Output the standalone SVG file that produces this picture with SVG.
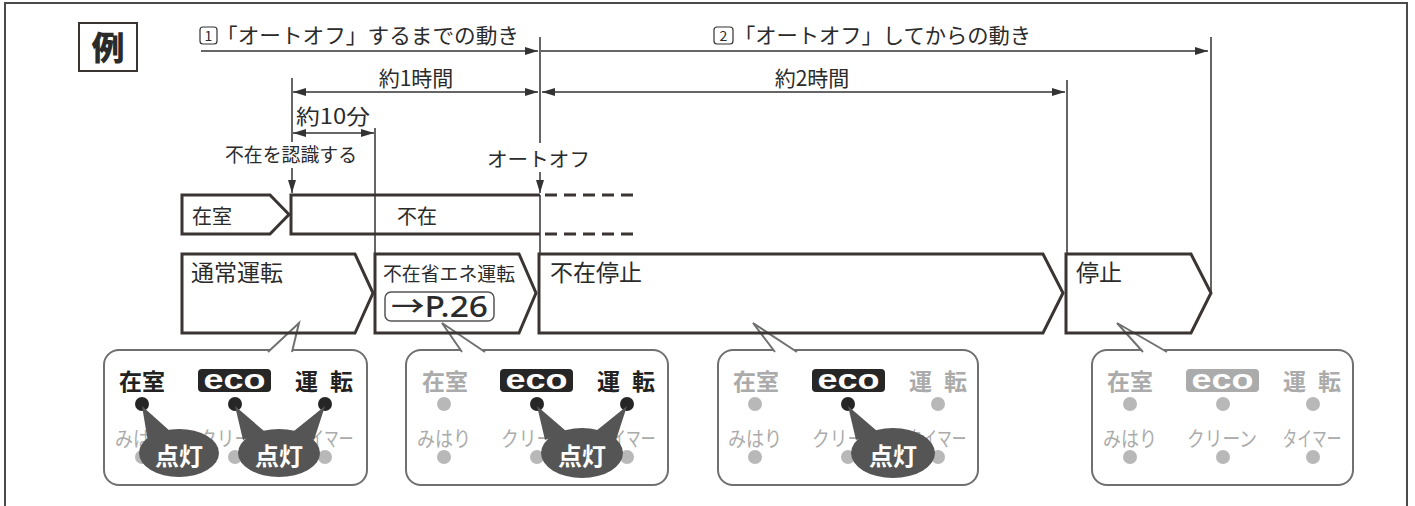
<svg xmlns="http://www.w3.org/2000/svg" width="1415" height="506" viewBox="0 0 1415 506">
<defs>
<marker id="ah" markerUnits="userSpaceOnUse" markerWidth="13" markerHeight="8" refX="13" refY="4" orient="auto-start-reverse"><path d="M0,0 L13,4 L0,8 z" fill="#333"/></marker>
<style>
text{font-family:"Noto Sans CJK JP","Noto Sans",sans-serif;fill:#2b2b2b}
.ln{stroke:#333;stroke-width:1.5;fill:none}
.box{stroke:#3a3533;stroke-width:3;fill:none;stroke-linejoin:miter}
.bub{fill:#fff;stroke:#707070;stroke-width:2}
.tail{fill:#fff;stroke:#707070;stroke-width:2;stroke-linejoin:miter}
.lbl{font-size:21px}
.big{font-size:23px}
.pk{font-size:23px;font-weight:bold;fill:#222}
.pg{font-size:23px;font-weight:bold;fill:#ababab}
.sg{font-size:21px;fill:#ababab}
.dk{fill:#262626}
.gd{fill:#b8b8b8}
.sp{fill:#555}
.on{font-size:24px;font-weight:bold;fill:#fff}
.eco{font-family:"Liberation Sans",sans-serif;font-size:27px;font-weight:bold;fill:#fff}
</style>
</defs>
<rect width="1415" height="506" fill="#fff"/>
<path d="M5,506 V3 H1407 V506" fill="none" stroke="#4a4a4a" stroke-width="2"/>

<g id="rei">
<rect x="79" y="23" width="58" height="48" fill="#fff" stroke="#3a3533" stroke-width="2"/>
<text x="108" y="60" text-anchor="middle" style="font-size:33px;font-weight:900">例</text>
</g>

<g id="title1">
<rect x="200" y="27" width="17" height="17" rx="3" fill="none" stroke="#333" stroke-width="1.2"/>
<text x="208.5" y="41" text-anchor="middle" style="font-size:14px">1</text>
<text x="216" y="43" class="lbl" textLength="303" lengthAdjust="spacingAndGlyphs">「オートオフ」するまでの動き</text>
</g>
<g id="title2">
<rect x="714" y="27" width="19" height="17" rx="3" fill="none" stroke="#333" stroke-width="1.2"/>
<text x="723.5" y="41" text-anchor="middle" style="font-size:14px">2</text>
<text x="734" y="43" class="lbl" textLength="297" lengthAdjust="spacingAndGlyphs">「オートオフ」してからの動き</text>
</g>

<g id="labels">
<text x="416" y="86" class="lbl" text-anchor="middle">約1時間</text>
<text x="812" y="86" class="lbl" text-anchor="middle">約2時間</text>
<text x="296" y="124" class="lbl" textLength="74" lengthAdjust="spacingAndGlyphs">約10分</text>
<text x="225" y="162" style="font-size:19px" textLength="132" lengthAdjust="spacingAndGlyphs">不在を認識する</text>
<text x="487" y="167" style="font-size:20px" textLength="103" lengthAdjust="spacingAndGlyphs">オートオフ</text>
</g>

<g id="bubble1">
<rect x="104" y="350" width="263" height="135" rx="15" class="bub"/>
<path d="M268,352 L299,323 L292,352" class="tail"/>
<text x="119" y="390" class="pk">在室</text>
<rect x="198" y="369" width="73" height="23" rx="4" fill="#262626"/>
<text x="234.5" y="389" class="eco" text-anchor="middle" textLength="62" lengthAdjust="spacingAndGlyphs">eco</text>
<text x="295" y="390" class="pk" letter-spacing="12">運転</text>
<circle cx="142" cy="404" r="7" class="dk"/><circle cx="235" cy="404" r="7" class="dk"/><circle cx="325" cy="404" r="7" class="dk"/>
<text x="142" y="446" class="sg" text-anchor="middle" textLength="54" lengthAdjust="spacingAndGlyphs">みはり</text>
<text x="234" y="446" class="sg" text-anchor="middle" textLength="70" lengthAdjust="spacingAndGlyphs">クリーン</text>
<text x="324" y="446" class="sg" text-anchor="middle" textLength="59" lengthAdjust="spacingAndGlyphs">タイマー</text>
<circle cx="142" cy="457" r="7" class="gd"/><circle cx="235" cy="457" r="7" class="gd"/><circle cx="325" cy="457" r="7" class="gd"/>
<path d="M142,406 L148,442 L171,432 z" class="sp"/>
<ellipse cx="179" cy="453" rx="40" ry="24" class="sp"/>
<text x="179" y="465" class="on" text-anchor="middle">点灯</text>
<path d="M235,406 L243,440 L264,431 z M325,406 L294,431 L314,440 z" class="sp"/>
<ellipse cx="279" cy="453" rx="41" ry="24" class="sp"/>
<text x="279" y="465" class="on" text-anchor="middle">点灯</text>
</g>

<g id="bubble2">
<rect x="406" y="350" width="262" height="135" rx="15" class="bub"/>
<path d="M485,352 L442,323 L462,352" class="tail"/>
<text x="422" y="390" class="pg">在室</text>
<rect x="500" y="369" width="73" height="23" rx="4" fill="#262626"/>
<text x="536.5" y="389" class="eco" text-anchor="middle" textLength="62" lengthAdjust="spacingAndGlyphs">eco</text>
<text x="597" y="390" class="pk" letter-spacing="12">運転</text>
<circle cx="444" cy="404" r="7" class="gd"/><circle cx="537" cy="404" r="7" class="dk"/><circle cx="627" cy="404" r="7" class="dk"/>
<text x="444" y="446" class="sg" text-anchor="middle" textLength="54" lengthAdjust="spacingAndGlyphs">みはり</text>
<text x="536" y="446" class="sg" text-anchor="middle" textLength="70" lengthAdjust="spacingAndGlyphs">クリーン</text>
<text x="626" y="446" class="sg" text-anchor="middle" textLength="59" lengthAdjust="spacingAndGlyphs">タイマー</text>
<circle cx="444" cy="457" r="7" class="gd"/><circle cx="537" cy="457" r="7" class="gd"/><circle cx="627" cy="457" r="7" class="gd"/>
<path d="M537,406 L545,440 L566,431 z M627,406 L596,431 L616,440 z" class="sp"/>
<ellipse cx="582" cy="453" rx="41" ry="25" class="sp"/>
<text x="582" y="465" class="on" text-anchor="middle">点灯</text>
</g>

<g id="bubble3">
<rect x="718" y="350" width="260" height="135" rx="15" class="bub"/>
<path d="M797,352 L753,323 L775,352" class="tail"/>
<text x="733" y="390" class="pg">在室</text>
<rect x="812" y="369" width="73" height="23" rx="4" fill="#262626"/>
<text x="848.5" y="389" class="eco" text-anchor="middle" textLength="62" lengthAdjust="spacingAndGlyphs">eco</text>
<text x="909" y="390" class="pg" letter-spacing="12">運転</text>
<circle cx="755" cy="404" r="7" class="gd"/><circle cx="848" cy="404" r="7" class="dk"/><circle cx="938" cy="404" r="7" class="gd"/>
<text x="755" y="446" class="sg" text-anchor="middle" textLength="54" lengthAdjust="spacingAndGlyphs">みはり</text>
<text x="847" y="446" class="sg" text-anchor="middle" textLength="70" lengthAdjust="spacingAndGlyphs">クリーン</text>
<text x="937" y="446" class="sg" text-anchor="middle" textLength="59" lengthAdjust="spacingAndGlyphs">タイマー</text>
<circle cx="755" cy="457" r="7" class="gd"/><circle cx="848" cy="457" r="7" class="gd"/><circle cx="938" cy="457" r="7" class="gd"/>
<path d="M848,406 L856,440 L877,431 z" class="sp"/>
<ellipse cx="893" cy="453" rx="42" ry="25" class="sp"/>
<text x="893" y="465" class="on" text-anchor="middle">点灯</text>
</g>

<g id="bubble4">
<rect x="1092" y="350" width="261" height="135" rx="15" class="bub"/>
<path d="M1167,352 L1117,323 L1143,352" class="tail"/>
<text x="1107" y="390" class="pg">在室</text>
<rect x="1186" y="369" width="73" height="23" rx="4" fill="#ababab"/>
<text x="1222.5" y="389" class="eco" text-anchor="middle" textLength="62" lengthAdjust="spacingAndGlyphs">eco</text>
<text x="1283" y="390" class="pg" letter-spacing="12">運転</text>
<circle cx="1130" cy="404" r="7" class="gd"/><circle cx="1223" cy="404" r="7" class="gd"/><circle cx="1313" cy="404" r="7" class="gd"/>
<text x="1130" y="446" class="sg" text-anchor="middle" textLength="54" lengthAdjust="spacingAndGlyphs">みはり</text>
<text x="1222" y="446" class="sg" text-anchor="middle" textLength="70" lengthAdjust="spacingAndGlyphs">クリーン</text>
<text x="1312" y="446" class="sg" text-anchor="middle" textLength="59" lengthAdjust="spacingAndGlyphs">タイマー</text>
<circle cx="1130" cy="457" r="7" class="gd"/><circle cx="1223" cy="457" r="7" class="gd"/><circle cx="1313" cy="457" r="7" class="gd"/>
</g>

<g id="connectors">
<path d="M201,51 H538" class="ln" marker-end="url(#ah)"/>
<path d="M541,51 H1208" class="ln" marker-end="url(#ah)"/>
<path d="M293,92 H538" class="ln" marker-start="url(#ah)" marker-end="url(#ah)"/>
<path d="M542,92 H1065" class="ln" marker-start="url(#ah)" marker-end="url(#ah)"/>
<path d="M293,133 H374" class="ln" marker-start="url(#ah)" marker-end="url(#ah)"/>
<path d="M292,78 V142" class="ln"/>
<path d="M292,168 V193" class="ln" marker-end="url(#ah)"/>
<path d="M375,128 V254" class="ln"/>
<path d="M540,37 V143" class="ln"/>
<path d="M540,172 V193" class="ln" marker-end="url(#ah)"/>
<path d="M540,195 V254" class="ln"/>
<path d="M1067,80 V254" class="ln"/>
<path d="M1211,37 V293" class="ln"/>
</g>

<g id="zaishitsu">
<path d="M182,195 H270 L289,214.5 L270,234 H182 z" class="box"/>
<text x="192" y="224" style="font-size:20px">在室</text>
</g>
<g id="fuzai">
<path d="M540,195 H291 V234 H540" class="box"/>
<path d="M545,195 H634 M545,234 H634" stroke="#3a3533" stroke-width="3" stroke-dasharray="12 7"/>
<text x="397" y="224" style="font-size:20px">不在</text>
</g>
<g id="tsujo">
<path d="M182,254 H355 L373,293 L355,333 H182 z" class="box"/>
<text x="191" y="281" class="big">通常運転</text>
</g>
<g id="shoene">
<path d="M375,254 H519 L536,293 L519,333 H375 z" class="box"/>
<text x="383" y="281" style="font-size:19px" textLength="132" lengthAdjust="spacingAndGlyphs">不在省エネ運転</text>
<rect x="385" y="292" width="109" height="29" rx="6" fill="#fff" stroke="#555" stroke-width="1.5"/>
<text x="391" y="317" style="font-family:'Noto Sans','Noto Sans CJK JP',sans-serif;font-size:28px;font-weight:500" textLength="97" lengthAdjust="spacingAndGlyphs">→P.26</text>
</g>
<g id="teishi-fuzai">
<path d="M539,254 H1043 L1063,293 L1043,333 H539 z" class="box"/>
<text x="550" y="281" class="big">不在停止</text>
</g>
<g id="teishi">
<path d="M1066,254 H1191 L1211,293 L1191,333 H1066 z" class="box"/>
<text x="1076" y="281" class="big">停止</text>
</g>
</svg>
